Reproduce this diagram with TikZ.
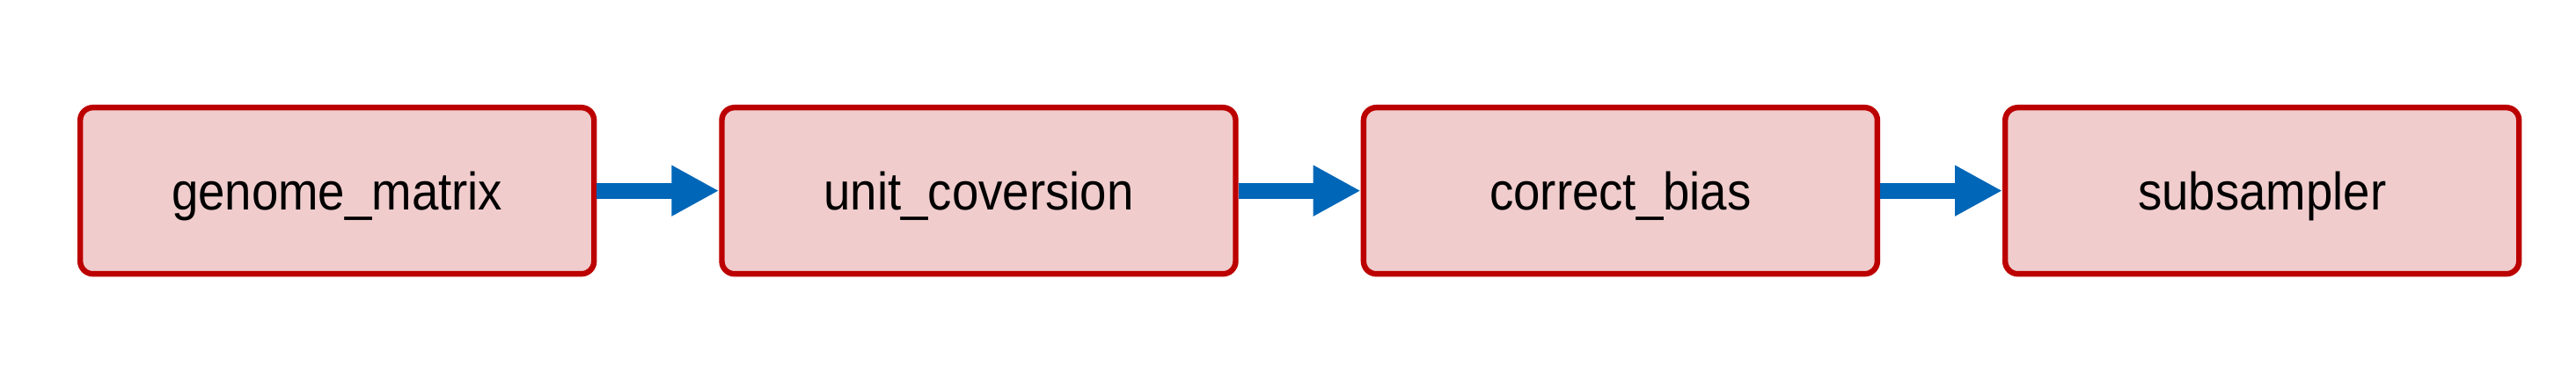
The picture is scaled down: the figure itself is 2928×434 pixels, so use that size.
\documentclass[tikz,border=0pt]{standalone}
\usepackage{fontspec}
\setmainfont[FakeStretch=0.91]{Liberation Sans}
\usetikzlibrary{arrows.meta}
\definecolor{boxred}{HTML}{BC0000}
\definecolor{boxfill}{HTML}{F0CCCC}
\definecolor{arrblue}{HTML}{0066B8}
\begin{document}
\begin{tikzpicture}[x=0.25pt,y=-0.25pt,
  stagebox/.style={draw=boxred, fill=boxfill, line width=1.6pt, rounded corners=3.6pt,
    minimum width=146pt, minimum height=47.25pt, inner sep=0pt,
    text height=10.75pt, text depth=0pt, font=\fontsize{15pt}{18pt}\selectfont, anchor=north west},
  flow/.style={arrblue, line width=4.5pt, -{Triangle[length=13.5pt,width=13.5pt]}}]
\useasboundingbox (0,0) rectangle (2928,434);
\node[stagebox] (a) at (88,119) {genome\_matrix};
\node[stagebox] (b) at (817.3,119) {unit\_coversion};
\node[stagebox] (c) at (1546.7,119) {correct\_bias};
\node[stagebox] (d) at (2276,119) {subsampler};
\draw[flow] (a.east) -- (b.west);
\draw[flow] (b.east) -- (c.west);
\draw[flow] (c.east) -- (d.west);
\end{tikzpicture}
\end{document}
